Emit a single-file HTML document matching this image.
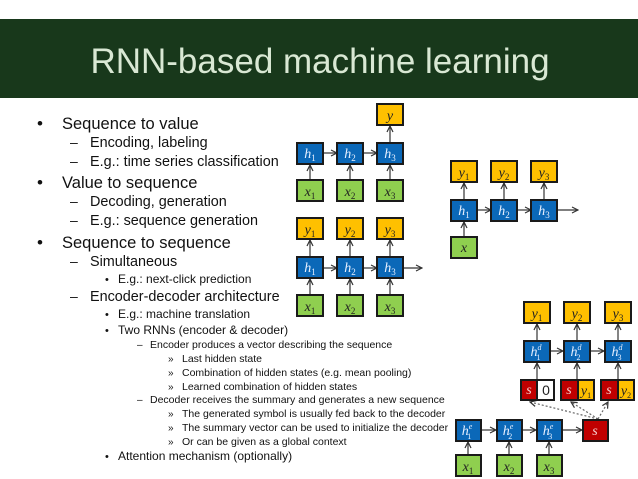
<!DOCTYPE html>
<html><head><meta charset="utf-8"><style>
html,body{margin:0;padding:0;background:#fff}
svg{display:block}
.t{font-family:"Liberation Sans",sans-serif;fill:#111}
.m{font-family:"Liberation Serif",serif;font-style:italic;font-size:14px}
.m tspan{font-style:normal}
.bx{stroke:#1a1a1a;stroke-width:2}
.ar{stroke:#333;stroke-width:1.2;fill:none}
</style></head><body>
<svg width="638" height="479" viewBox="0 0 638 479" xmlns="http://www.w3.org/2000/svg">
<defs>
<marker id="a" markerWidth="8" markerHeight="8" refX="7" refY="4" orient="auto" markerUnits="userSpaceOnUse">
<path d="M1,1 L7,4 L1,7" fill="none" stroke="#333" stroke-width="1.2"/></marker>
</defs>
<rect x="0" y="19" width="638" height="79" fill="#18381b"/>
<text x="320" y="73" text-anchor="middle" font-family="Liberation Sans,sans-serif" font-size="35" fill="#d9e8d4">RNN-based machine learning</text>

<g class="t">
<text x="37" y="129" font-size="17">•</text><text x="62" y="129" font-size="16.5">Sequence to value</text>
<text x="70" y="147" font-size="14">–</text><text x="90" y="147" font-size="14.4">Encoding, labeling</text>
<text x="70" y="166" font-size="14">–</text><text x="90" y="166" font-size="14.4">E.g.: time series classification</text>
<text x="37" y="188" font-size="17">•</text><text x="62" y="188" font-size="16.5">Value to sequence</text>
<text x="70" y="206" font-size="14">–</text><text x="90" y="206" font-size="14.4">Decoding, generation</text>
<text x="70" y="225" font-size="14">–</text><text x="90" y="225" font-size="14.4">E.g.: sequence generation</text>
<text x="37" y="248" font-size="17">•</text><text x="62" y="248" font-size="16.5">Sequence to sequence</text>
<text x="70" y="266" font-size="14">–</text><text x="90" y="266" font-size="14.4">Simultaneous</text>
<text x="105" y="283" font-size="11">•</text><text x="118" y="283" font-size="12">E.g.: next-click prediction</text>
<text x="70" y="301" font-size="14">–</text><text x="90" y="301" font-size="14.4">Encoder-decoder architecture</text>
<text x="105" y="318" font-size="11">•</text><text x="118" y="318" font-size="12">E.g.: machine translation</text>
<text x="105" y="334" font-size="11">•</text><text x="118" y="334" font-size="12">Two RNNs (encoder &amp; decoder)</text>
<text x="137" y="348" font-size="10">–</text><text x="150" y="348" font-size="10.5">Encoder produces a vector describing the sequence</text>
<text x="168" y="362" font-size="10">»</text><text x="182" y="362" font-size="10.5">Last hidden state</text>
<text x="168" y="376" font-size="10">»</text><text x="182" y="376" font-size="10.5">Combination of hidden states (e.g. mean pooling)</text>
<text x="168" y="390" font-size="10">»</text><text x="182" y="390" font-size="10.5">Learned combination of hidden states</text>
<text x="137" y="403" font-size="10">–</text><text x="150" y="403" font-size="10.5">Decoder receives the summary and generates a new sequence</text>
<text x="168" y="417" font-size="10">»</text><text x="182" y="417" font-size="10.5">The generated symbol is usually fed back to the decoder</text>
<text x="168" y="431" font-size="10">»</text><text x="182" y="431" font-size="10.5">The summary vector can be used to initialize the decoder</text>
<text x="168" y="445" font-size="10">»</text><text x="182" y="445" font-size="10.5">Or can be given as a global context</text>
<text x="105" y="460" font-size="11">•</text><text x="118" y="460" font-size="12">Attention mechanism (optionally)</text>
</g>

<g class="ar">
<line x1="310" y1="180" x2="310" y2="165" marker-end="url(#a)"/>
<line x1="350" y1="180" x2="350" y2="165" marker-end="url(#a)"/>
<line x1="390" y1="180" x2="390" y2="165" marker-end="url(#a)"/>
<line x1="323" y1="153" x2="337" y2="153" marker-end="url(#a)"/>
<line x1="363" y1="153" x2="377" y2="153" marker-end="url(#a)"/>
<line x1="390" y1="143" x2="390" y2="126" marker-end="url(#a)"/>
<line x1="310" y1="295" x2="310" y2="279" marker-end="url(#a)"/>
<line x1="350" y1="295" x2="350" y2="279" marker-end="url(#a)"/>
<line x1="390" y1="295" x2="390" y2="279" marker-end="url(#a)"/>
<line x1="323" y1="268" x2="337" y2="268" marker-end="url(#a)"/>
<line x1="363" y1="268" x2="377" y2="268" marker-end="url(#a)"/>
<line x1="403" y1="268" x2="422" y2="268" marker-end="url(#a)"/>
<line x1="310" y1="257" x2="310" y2="240" marker-end="url(#a)"/>
<line x1="350" y1="257" x2="350" y2="240" marker-end="url(#a)"/>
<line x1="390" y1="257" x2="390" y2="240" marker-end="url(#a)"/>
<line x1="464" y1="237" x2="464" y2="222" marker-end="url(#a)"/>
<line x1="477" y1="210" x2="491" y2="210" marker-end="url(#a)"/>
<line x1="517" y1="210" x2="531" y2="210" marker-end="url(#a)"/>
<line x1="557" y1="210" x2="578" y2="210" marker-end="url(#a)"/>
<line x1="464" y1="200" x2="464" y2="183" marker-end="url(#a)"/>
<line x1="504" y1="200" x2="504" y2="183" marker-end="url(#a)"/>
<line x1="544" y1="200" x2="544" y2="183" marker-end="url(#a)"/>
<line x1="468" y1="455" x2="468" y2="442" marker-end="url(#a)"/>
<line x1="509" y1="455" x2="509" y2="442" marker-end="url(#a)"/>
<line x1="549" y1="455" x2="549" y2="442" marker-end="url(#a)"/>
<line x1="481" y1="430" x2="496" y2="430" marker-end="url(#a)"/>
<line x1="522" y1="430" x2="536" y2="430" marker-end="url(#a)"/>
<line x1="562" y1="430" x2="582" y2="430" marker-end="url(#a)"/>
<line x1="537" y1="380" x2="537" y2="363" marker-end="url(#a)"/>
<line x1="577" y1="380" x2="577" y2="363" marker-end="url(#a)"/>
<line x1="618" y1="380" x2="618" y2="363" marker-end="url(#a)"/>
<line x1="550" y1="351" x2="563" y2="351" marker-end="url(#a)"/>
<line x1="590" y1="351" x2="604" y2="351" marker-end="url(#a)"/>
<line x1="537" y1="341" x2="537" y2="324" marker-end="url(#a)"/>
<line x1="577" y1="341" x2="577" y2="324" marker-end="url(#a)"/>
<line x1="618" y1="341" x2="618" y2="324" marker-end="url(#a)"/>
<g stroke-dasharray="2,2" stroke="#666">
<line x1="598" y1="419" x2="530" y2="402" marker-end="url(#a)"/>
<line x1="598" y1="419" x2="571" y2="402" marker-end="url(#a)"/>
<line x1="598" y1="419" x2="608" y2="402" marker-end="url(#a)"/>
</g>
</g>

<g class="bx">
<rect x="377" y="104" width="26" height="21" fill="#ffc000"/>
<rect x="297" y="143" width="26" height="21" fill="#0b68b8"/>
<rect x="337" y="143" width="26" height="21" fill="#0b68b8"/>
<rect x="377" y="143" width="26" height="21" fill="#0b68b8"/>
<rect x="297" y="180" width="26" height="21" fill="#8fcf4f"/>
<rect x="337" y="180" width="26" height="21" fill="#8fcf4f"/>
<rect x="377" y="180" width="26" height="21" fill="#8fcf4f"/>
<rect x="297" y="218" width="26" height="21" fill="#ffc000"/>
<rect x="337" y="218" width="26" height="21" fill="#ffc000"/>
<rect x="377" y="218" width="26" height="21" fill="#ffc000"/>
<rect x="297" y="257" width="26" height="21" fill="#0b68b8"/>
<rect x="337" y="257" width="26" height="21" fill="#0b68b8"/>
<rect x="377" y="257" width="26" height="21" fill="#0b68b8"/>
<rect x="297" y="295" width="26" height="21" fill="#8fcf4f"/>
<rect x="337" y="295" width="26" height="21" fill="#8fcf4f"/>
<rect x="377" y="295" width="26" height="21" fill="#8fcf4f"/>
<rect x="451" y="161" width="26" height="21" fill="#ffc000"/>
<rect x="491" y="161" width="26" height="21" fill="#ffc000"/>
<rect x="531" y="161" width="26" height="21" fill="#ffc000"/>
<rect x="451" y="200" width="26" height="21" fill="#0b68b8"/>
<rect x="491" y="200" width="26" height="21" fill="#0b68b8"/>
<rect x="531" y="200" width="26" height="21" fill="#0b68b8"/>
<rect x="451" y="237" width="26" height="21" fill="#8fcf4f"/>
<rect x="524" y="302" width="26" height="21" fill="#ffc000"/>
<rect x="564" y="302" width="26" height="21" fill="#ffc000"/>
<rect x="605" y="302" width="26" height="21" fill="#ffc000"/>
<rect x="524" y="341" width="26" height="21" fill="#0b68b8"/>
<rect x="564" y="341" width="26" height="21" fill="#0b68b8"/>
<rect x="605" y="341" width="26" height="21" fill="#0b68b8"/>
<rect x="521" y="380" width="16" height="20" fill="#c00000"/>
<rect x="537" y="380" width="17" height="20" fill="#fff"/>
<rect x="561" y="380" width="17" height="20" fill="#c00000"/>
<rect x="578" y="380" width="16" height="20" fill="#ffc000"/>
<rect x="601" y="380" width="17" height="20" fill="#c00000"/>
<rect x="618" y="380" width="16" height="20" fill="#ffc000"/>
<rect x="456" y="420" width="25" height="21" fill="#0b68b8"/>
<rect x="497" y="420" width="25" height="21" fill="#0b68b8"/>
<rect x="537" y="420" width="25" height="21" fill="#0b68b8"/>
<rect x="583" y="420" width="25" height="21" fill="#c00000"/>
<rect x="456" y="455" width="25" height="21" fill="#8fcf4f"/>
<rect x="497" y="455" width="25" height="21" fill="#8fcf4f"/>
<rect x="537" y="455" width="25" height="21" fill="#8fcf4f"/>
</g>

<g class="m" text-anchor="middle">
<g fill="#222">
<text x="390" y="120">y</text>
<text x="310" y="196">x<tspan font-size="9" dy="3">1</tspan></text>
<text x="350" y="196">x<tspan font-size="9" dy="3">2</tspan></text>
<text x="390" y="196">x<tspan font-size="9" dy="3">3</tspan></text>
<text x="310" y="234">y<tspan font-size="9" dy="3">1</tspan></text>
<text x="350" y="234">y<tspan font-size="9" dy="3">2</tspan></text>
<text x="390" y="234">y<tspan font-size="9" dy="3">3</tspan></text>
<text x="310" y="311">x<tspan font-size="9" dy="3">1</tspan></text>
<text x="350" y="311">x<tspan font-size="9" dy="3">2</tspan></text>
<text x="390" y="311">x<tspan font-size="9" dy="3">3</tspan></text>
<text x="464" y="177">y<tspan font-size="9" dy="3">1</tspan></text>
<text x="504" y="177">y<tspan font-size="9" dy="3">2</tspan></text>
<text x="544" y="177">y<tspan font-size="9" dy="3">3</tspan></text>
<text x="464" y="252">x</text>
<text x="537" y="318">y<tspan font-size="9" dy="3">1</tspan></text>
<text x="577" y="318">y<tspan font-size="9" dy="3">2</tspan></text>
<text x="618" y="318">y<tspan font-size="9" dy="3">3</tspan></text>
<text x="546" y="395" style="font-style:normal;font-family:'Liberation Sans',sans-serif">0</text>
<text x="586" y="395">y<tspan font-size="8" dy="3">1</tspan></text>
<text x="626" y="395">y<tspan font-size="8" dy="3">2</tspan></text>
<text x="468" y="471">x<tspan font-size="9" dy="3">1</tspan></text>
<text x="509" y="471">x<tspan font-size="9" dy="3">2</tspan></text>
<text x="549" y="471">x<tspan font-size="9" dy="3">3</tspan></text>
</g>
<g fill="#e8f0ff">
<text x="310" y="158">h<tspan font-size="9" dy="3">1</tspan></text>
<text x="350" y="158">h<tspan font-size="9" dy="3">2</tspan></text>
<text x="390" y="158">h<tspan font-size="9" dy="3">3</tspan></text>
<text x="310" y="272">h<tspan font-size="9" dy="3">1</tspan></text>
<text x="350" y="272">h<tspan font-size="9" dy="3">2</tspan></text>
<text x="390" y="272">h<tspan font-size="9" dy="3">3</tspan></text>
<text x="464" y="215">h<tspan font-size="9" dy="3">1</tspan></text>
<text x="504" y="215">h<tspan font-size="9" dy="3">2</tspan></text>
<text x="544" y="215">h<tspan font-size="9" dy="3">3</tspan></text>
<text x="536" y="356">h<tspan font-size="8" dy="-6" style="font-style:italic">d</tspan><tspan font-size="8" dx="-5" dy="10">1</tspan></text>
<text x="576" y="356">h<tspan font-size="8" dy="-6" style="font-style:italic">d</tspan><tspan font-size="8" dx="-5" dy="10">2</tspan></text>
<text x="617" y="356">h<tspan font-size="8" dy="-6" style="font-style:italic">d</tspan><tspan font-size="8" dx="-5" dy="10">3</tspan></text>
<text x="467" y="435">h<tspan font-size="8" dy="-6" style="font-style:italic">e</tspan><tspan font-size="8" dx="-5" dy="10">1</tspan></text>
<text x="508" y="435">h<tspan font-size="8" dy="-6" style="font-style:italic">e</tspan><tspan font-size="8" dx="-5" dy="10">2</tspan></text>
<text x="548" y="435">h<tspan font-size="8" dy="-6" style="font-style:italic">e</tspan><tspan font-size="8" dx="-5" dy="10">3</tspan></text>
</g>
<g fill="#f5d0d0">
<text x="529" y="394">s</text>
<text x="569" y="394">s</text>
<text x="609" y="394">s</text>
<text x="595" y="435">s</text>
</g>
</g>
</svg>
</body></html>
